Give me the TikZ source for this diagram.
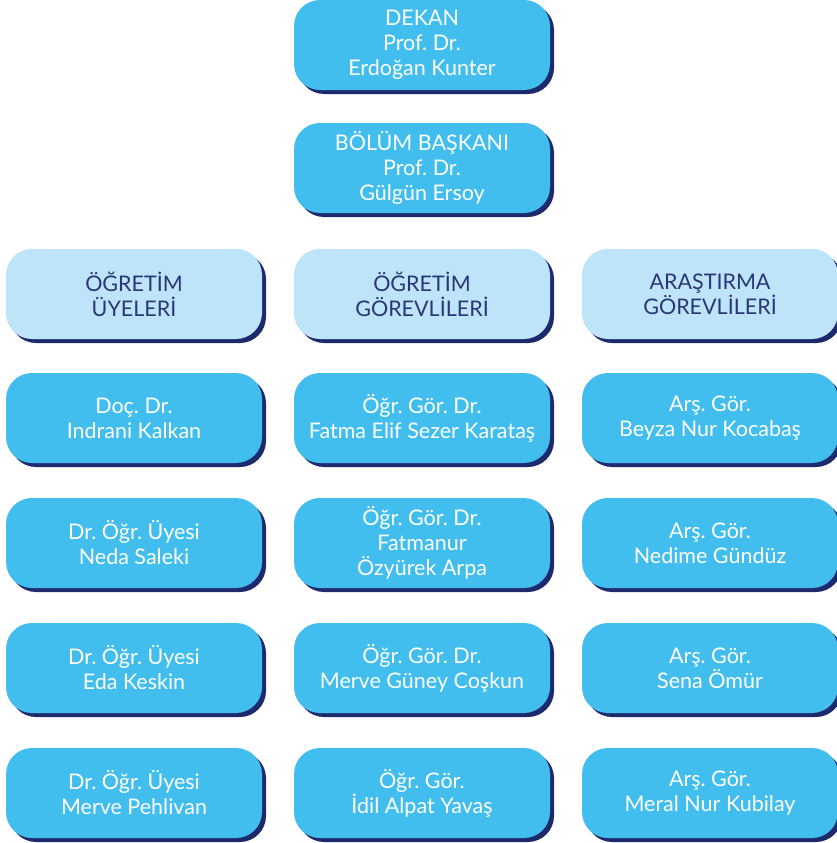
\documentclass[tikz,border=0pt]{standalone}
\usepackage{fontspec}
\setmainfont{Lato}
\usetikzlibrary{shadows,backgrounds}
\definecolor{boxblue}{HTML}{41BEEE}
\definecolor{headblue}{HTML}{BEE4F9}
\definecolor{navy}{HTML}{1E2A6E}
\definecolor{headtext}{HTML}{2A3675}
\definecolor{linegray}{HTML}{8C8C8C}
\frenchspacing
\tikzset{
  orgbox/.style={rectangle, rounded corners=26pt, minimum width=256pt, minimum height=90pt,
    inner sep=0pt, align=center, font=\fontsize{21.5}{25}\selectfont,
    general shadow={shadow xshift=4pt, shadow yshift=-4pt, fill=navy}},
  personbox/.style={orgbox, fill=boxblue, text=white},
  headbox/.style={orgbox, fill=headblue, text=headtext},
  conn/.style={draw=linegray, line width=1.3pt}
}
\begin{document}
\begin{tikzpicture}[x=1pt,y=-1pt]
\useasboundingbox (0,0) rectangle (837,843);
\fill[white] (0,0) rectangle (837,843);
\node[personbox] (dekan) at (422,45) {DEKAN\\Prof. Dr.\\Erdoğan Kunter};
\node[personbox] (bolum) at (422,168) {BÖLÜM BAŞKANI\\Prof. Dr.\\Gülgün Ersoy};
\node[headbox] (h1) at (134,294) {ÖĞRETİM\\ÜYELERİ};
\node[headbox] (h2) at (422,294) {ÖĞRETİM\\GÖREVLİLERİ};
\node[headbox] (h3) at (710,294) {ARAŞTIRMA\\GÖREVLİLERİ};
\node[personbox] (a1) at (134,418) {Doç. Dr.\\Indrani Kalkan};
\node[personbox] (a2) at (134,543) {Dr. Öğr. Üyesi\\Neda Saleki};
\node[personbox] (a3) at (134,668) {Dr. Öğr. Üyesi\\Eda Keskin};
\node[personbox] (a4) at (134,793) {Dr. Öğr. Üyesi\\Merve Pehlivan};
\node[personbox] (b1) at (422,418) {Öğr. Gör. Dr.\\Fatma Elif Sezer Karataş};
\node[personbox] (b2) at (422,543) {Öğr. Gör. Dr.\\Fatmanur\\Özyürek Arpa};
\node[personbox] (b3) at (422,668) {Öğr. Gör. Dr.\\Merve Güney Coşkun};
\node[personbox] (b4) at (422,793) {Öğr. Gör.\\İdil Alpat Yavaş};
\node[personbox] (c1) at (710,418) {Arş. Gör.\\Beyza Nur Kocabaş};
\node[personbox] (c2) at (710,543) {Arş. Gör.\\Nedime Gündüz};
\node[personbox] (c3) at (710,668) {Arş. Gör.\\Sena Ömür};
\node[personbox] (c4) at (710,793) {Arş. Gör.\\Meral Nur Kubilay};
\coordinate (bar) at (422,227);
\begin{scope}[on background layer]
\draw[conn] (dekan.center) -- (bolum.center);
\draw[conn] (bolum.center) -- (h2.center);
\draw[conn] (h1.center) -- (h1 |- bar) -- (h3 |- bar) -- (h3.center);
\draw[conn] (h1.center) -- (a4.center);
\draw[conn] (h2.center) -- (b4.center);
\draw[conn] (h3.center) -- (c4.center);
\end{scope}
\end{tikzpicture}
\end{document}
